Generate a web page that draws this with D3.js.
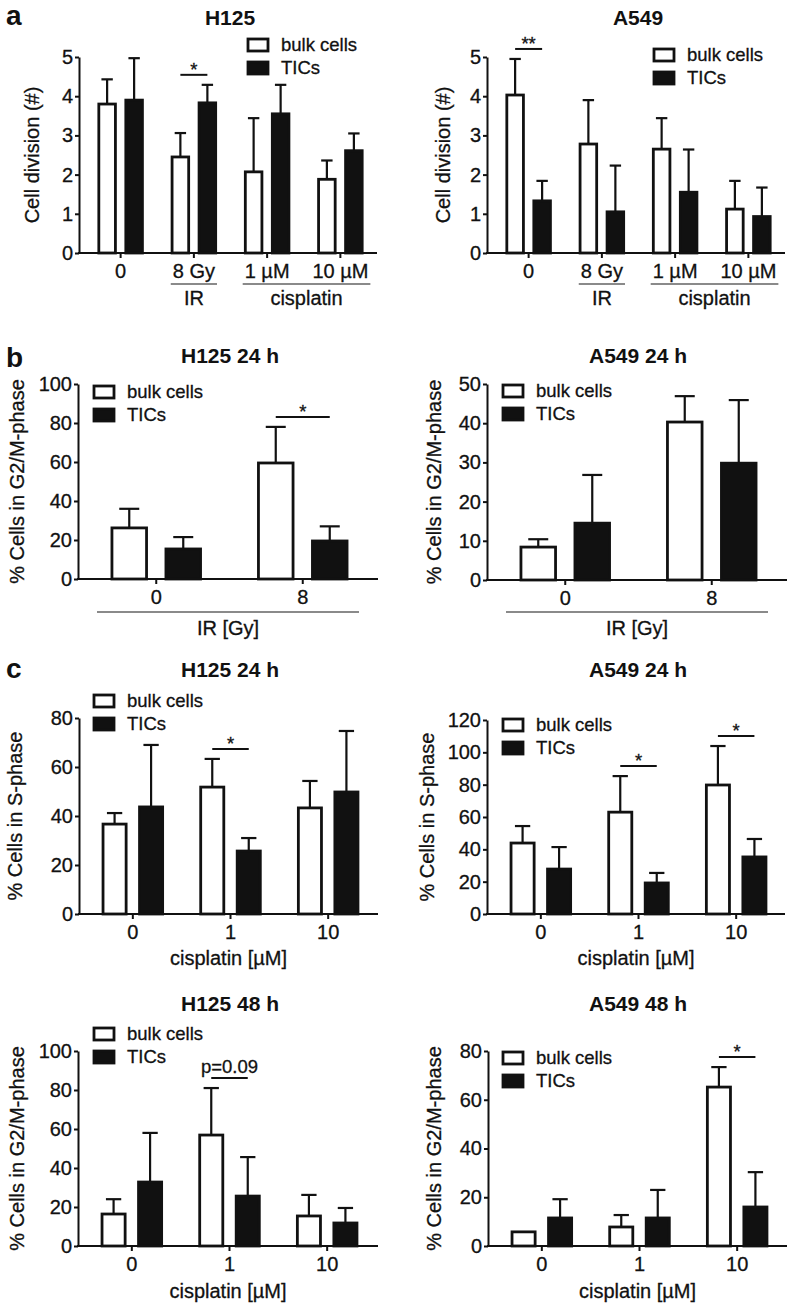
<!DOCTYPE html>
<html><head><meta charset="utf-8">
<script src="https://cdn.jsdelivr.net/npm/d3@7/dist/d3.min.js"></script>
<style>
body{margin:0;background:#fff;}
svg{display:block;font-family:"Liberation Sans",Arial,Helvetica,sans-serif;}
text.reg{stroke:#111;stroke-width:0.3px;}
</style></head><body>
<svg id="chart" width="789" height="1305"></svg>
<script>
// ---------------- data ----------------
const series = ["bulk cells", "TICs"];

// a: cell division
const divGroups = ["0", "8 Gy", "1 µM", "10 µM"];
const divTicks = [0, 1, 2, 3, 4, 5];
const divTreatments = [{label: "IR", groups: ["8 Gy"]}, {label: "cisplatin", groups: ["1 µM", "10 µM"]}];
const h125DivBulk = [3.80, 2.45, 2.07, 1.88];
const h125DivBulkErr = [0.63, 0.61, 1.37, 0.48];
const h125DivTic = [3.90, 3.83, 3.55, 2.61];
const h125DivTicErr = [1.07, 0.46, 0.74, 0.44];
const h125DivSig = [{group: "8 Gy", label: "*"}];
const a549DivBulk = [4.03, 2.78, 2.65, 1.12];
const a549DivBulkErr = [0.92, 1.12, 0.79, 0.72];
const a549DivTic = [1.33, 1.05, 1.55, 0.93];
const a549DivTicErr = [0.51, 1.18, 1.09, 0.74];
const a549DivSig = [{group: "0", label: "**"}];

// b: G2/M after IR, 24 h
const irGroups = ["0", "8"];
const h125IrTicks = [0, 20, 40, 60, 80, 100];
const h125IrBulk = [26.2, 59.5];
const h125IrBulkErr = [9.8, 18.5];
const h125IrTic = [15.4, 19.5];
const h125IrTicErr = [6.1, 7.5];
const h125IrSig = [{group: "8", label: "*"}];
const a549IrTicks = [0, 10, 20, 30, 40, 50];
const a549IrBulk = [8.4, 40.3];
const a549IrBulkErr = [2.0, 6.6];
const a549IrTic = [14.5, 29.8];
const a549IrTicErr = [12.3, 16.1];
const a549IrSig = [];

// c: cisplatin
const cisGroups = ["0", "1", "10"];
const h125SPhaseTicks = [0, 20, 40, 60, 80];
const h125SPhaseBulk = [36.7, 51.8, 43.3];
const h125SPhaseBulkErr = [4.5, 11.5, 11.0];
const h125SPhaseTic = [43.7, 25.7, 49.8];
const h125SPhaseTicErr = [25.3, 5.3, 24.9];
const h125SPhaseSig = [{group: "1", label: "*"}];
const a549SPhaseTicks = [0, 20, 40, 60, 80, 100, 120];
const a549SPhaseBulk = [43.9, 63.0, 79.8];
const a549SPhaseBulkErr = [10.5, 22.3, 24.1];
const a549SPhaseTic = [27.8, 19.2, 35.3];
const a549SPhaseTicErr = [13.6, 6.2, 11.1];
const a549SPhaseSig = [{group: "1", label: "*"}, {group: "10", label: "*"}];
const h125G2mTicks = [0, 20, 40, 60, 80, 100];
const h125G2mBulk = [16.4, 56.9, 15.4];
const h125G2mBulkErr = [7.6, 24.1, 10.8];
const h125G2mTic = [32.8, 25.6, 11.8];
const h125G2mTicErr = [25.2, 20.0, 7.7];
const h125G2mSig = [{group: "1", label: "p=0.09"}];
const a549G2mTicks = [0, 20, 40, 60, 80];
const a549G2mBulk = [5.8, 7.8, 65.2];
const a549G2mBulkErr = [0, 4.9, 8.2];
const a549G2mTic = [11.5, 11.5, 16.0];
const a549G2mTicErr = [7.7, 11.5, 14.3];
const a549G2mSig = [{group: "10", label: "*"}];

// ---------------- layout ----------------
const svg = d3.select("#chart");
svg.append("rect").attr("width", 789).attr("height", 1305).attr("fill", "#fff");
const INK = "#111";
const GRAY = "#8a8a8a";

const panels = [
  {title: "H125", titleX: 230, titleY: 25, x0: 79, x1: 377, yTop: 57, y0: 253, ticks: divTicks,
   groups: divGroups, bulk: h125DivBulk, bulkErr: h125DivBulkErr, tic: h125DivTic, ticErr: h125DivTicErr, sig: h125DivSig,
   yLabel: "Cell division (#)", yLabX: 32, legX: 247, legY: 38, bw: 19, gap: 8, treatments: divTreatments},
  {title: "A549", titleX: 638, titleY: 25, x0: 487, x1: 785, yTop: 57, y0: 253, ticks: divTicks,
   groups: divGroups, bulk: a549DivBulk, bulkErr: a549DivBulkErr, tic: a549DivTic, ticErr: a549DivTicErr, sig: a549DivSig,
   yLabel: "Cell division (#)", yLabX: 443, legX: 653, legY: 48, bw: 19, gap: 8, treatments: divTreatments},
  {title: "H125 24 h", titleX: 230, titleY: 363, x0: 78, x1: 378, yTop: 384, y0: 579, ticks: h125IrTicks,
   groups: irGroups, bulk: h125IrBulk, bulkErr: h125IrBulkErr, tic: h125IrTic, ticErr: h125IrTicErr, sig: h125IrSig,
   yLabel: "% Cells in G2/M-phase", yLabX: 17, legX: 93, legY: 385, bw: 37, gap: 17, xLabel: "IR [Gy]", xLabelY: 635, bracket: 612},
  {title: "A549 24 h", titleX: 638, titleY: 363, x0: 487, x1: 787, yTop: 384, y0: 580, ticks: a549IrTicks,
   groups: irGroups, bulk: a549IrBulk, bulkErr: a549IrBulkErr, tic: a549IrTic, ticErr: a549IrTicErr, sig: a549IrSig,
   yLabel: "% Cells in G2/M-phase", yLabX: 434, legX: 502, legY: 384, bw: 37, gap: 17, xLabel: "IR [Gy]", xLabelY: 635, bracket: 612},
  {title: "H125 24 h", titleX: 230, titleY: 677, x0: 79, x1: 378, yTop: 718, y0: 914, ticks: h125SPhaseTicks,
   groups: cisGroups, bulk: h125SPhaseBulk, bulkErr: h125SPhaseBulkErr, tic: h125SPhaseTic, ticErr: h125SPhaseTicErr, sig: h125SPhaseSig,
   yLabel: "% Cells in S-phase", yLabX: 15, legX: 93, legY: 694, bw: 25.5, gap: 11, xLabel: "cisplatin [µM]", xLabelY: 965},
  {title: "A549 24 h", titleX: 638, titleY: 677, x0: 487, x1: 785, yTop: 720, y0: 914, ticks: a549SPhaseTicks,
   groups: cisGroups, bulk: a549SPhaseBulk, bulkErr: a549SPhaseBulkErr, tic: a549SPhaseTic, ticErr: a549SPhaseTicErr, sig: a549SPhaseSig,
   yLabel: "% Cells in S-phase", yLabX: 427, legX: 502, legY: 718, bw: 25.5, gap: 11, xLabel: "cisplatin [µM]", xLabelY: 965},
  {title: "H125 48 h", titleX: 230, titleY: 1011, x0: 78, x1: 378, yTop: 1051, y0: 1246, ticks: h125G2mTicks,
   groups: cisGroups, bulk: h125G2mBulk, bulkErr: h125G2mBulkErr, tic: h125G2mTic, ticErr: h125G2mTicErr, sig: h125G2mSig,
   yLabel: "% Cells in G2/M-phase", yLabX: 17, legX: 93, legY: 1027, bw: 25.5, gap: 11, xLabel: "cisplatin [µM]", xLabelY: 1298},
  {title: "A549 48 h", titleX: 638, titleY: 1011, x0: 488, x1: 787, yTop: 1051, y0: 1246, ticks: a549G2mTicks,
   groups: cisGroups, bulk: a549G2mBulk, bulkErr: a549G2mBulkErr, tic: a549G2mTic, ticErr: a549G2mTicErr, sig: a549G2mSig,
   yLabel: "% Cells in G2/M-phase", yLabX: 434, legX: 502, legY: 1051, bw: 25.5, gap: 11, xLabel: "cisplatin [µM]", xLabelY: 1298}
];

function drawPanel(p) {
  const g = svg.append("g");
  const y = d3.scaleLinear().domain([0, d3.max(p.ticks)]).range([p.y0, p.yTop]);
  const x = d3.scaleBand().domain(p.groups).range([p.x0 + 5, p.x0 + 298]).padding(0);
  const half = p.bw + p.gap / 2;
  const xi = d3.scaleBand().domain(series).range([-half, half]).paddingInner(p.gap / (p.bw + p.gap)).paddingOuter(0);
  const cx = (grp) => x(grp) + x.bandwidth() / 2;

  const rows = p.groups.flatMap((grp, i) => [
    {group: grp, s: series[0], v: p.bulk[i], e: p.bulkErr[i]},
    {group: grp, s: series[1], v: p.tic[i], e: p.ticErr[i]}
  ]);

  // error bars (upper only)
  const capW = Math.min(20, xi.bandwidth() * 0.6);
  const eb = g.append("g").attr("stroke", INK).attr("stroke-width", 2.2);
  rows.filter(d => d.e > 0).forEach(d => {
    const c = cx(d.group) + xi(d.s) + xi.bandwidth() / 2;
    eb.append("line").attr("x1", c).attr("x2", c).attr("y1", y(d.v)).attr("y2", y(d.v + d.e));
    eb.append("line").attr("x1", c - capW / 2).attr("x2", c + capW / 2).attr("y1", y(d.v + d.e)).attr("y2", y(d.v + d.e));
  });

  // bars
  g.append("g").selectAll("rect").data(rows).join("rect")
    .attr("x", d => cx(d.group) + xi(d.s) + 1.2)
    .attr("width", xi.bandwidth() - 2.4)
    .attr("y", d => y(d.v))
    .attr("height", d => y(0) - y(d.v))
    .attr("fill", d => d.s === series[0] ? "#fff" : INK)
    .attr("stroke", INK).attr("stroke-width", 2.8);

  // y axis
  const ya = g.append("g").attr("transform", `translate(${p.x0},0)`)
    .call(d3.axisLeft(y).tickValues(p.ticks).tickSize(4).tickSizeOuter(0).tickPadding(2).tickFormat(d3.format("d")));
  ya.select(".domain").attr("stroke", INK).attr("stroke-width", 2);
  ya.selectAll(".tick line").attr("stroke", INK).attr("stroke-width", 2);
  ya.selectAll(".tick text").attr("class", "reg").attr("fill", INK).style("font-size", "20px").attr("font-family", null);

  // x axis
  g.append("line").attr("x1", p.x0 - 1).attr("x2", p.x1).attr("y1", p.y0).attr("y2", p.y0)
    .attr("stroke", INK).attr("stroke-width", 2);
  const xa = g.append("g").attr("transform", `translate(0,${p.y0})`)
    .call(d3.axisBottom(x).tickSize(5).tickSizeOuter(0).tickPadding(6));
  xa.select(".domain").remove();
  xa.selectAll(".tick line").attr("stroke", INK).attr("stroke-width", 2);
  xa.selectAll(".tick text").attr("class", "reg").attr("fill", INK).style("font-size", "20px").attr("font-family", null);

  // treatment brackets under tick labels (panel a)
  if (p.treatments) {
    p.treatments.forEach(t => {
      const nodes = xa.selectAll(".tick").filter(d => t.groups.includes(d)).select("text").nodes();
      let lo = Infinity, hi = -Infinity;
      nodes.forEach(n => {
        const b = n.getBBox();
        const tx = cx(n.__data__);
        lo = Math.min(lo, tx + b.x - 2); hi = Math.max(hi, tx + b.x + b.width + 2);
      });
      g.append("line").attr("x1", lo).attr("x2", hi).attr("y1", p.y0 + 31).attr("y2", p.y0 + 31)
        .attr("stroke", GRAY).attr("stroke-width", 2);
      g.append("text").attr("class", "reg").attr("x", (lo + hi) / 2).attr("y", p.y0 + 52).attr("text-anchor", "middle")
        .attr("fill", INK).style("font-size", "20px").text(t.label);
    });
  }
  if (p.bracket) {
    g.append("line").attr("x1", p.x0 + 19).attr("x2", p.x1 - 19).attr("y1", p.bracket).attr("y2", p.bracket)
      .attr("stroke", GRAY).attr("stroke-width", 2);
  }
  if (p.xLabel) {
    g.append("text").attr("class", "reg").attr("x", (p.x0 + p.x1) / 2).attr("y", p.xLabelY).attr("text-anchor", "middle")
      .attr("fill", INK).style("font-size", "20px").text(p.xLabel);
  }

  // y label
  g.append("text").attr("class", "reg").attr("transform", `translate(${p.yLabX},${(p.y0 + p.yTop) / 2}) rotate(-90)`)
    .attr("text-anchor", "middle").attr("dy", "0.35em").attr("fill", INK).style("font-size", "20px").text(p.yLabel);

  // title
  g.append("text").attr("x", p.titleX).attr("y", p.titleY).attr("text-anchor", "middle")
    .attr("fill", INK).style("font-size", "21px").style("font-weight", "bold").text(p.title);

  // legend
  const lg = g.append("g").attr("transform", `translate(${p.legX},${p.legY})`);
  series.forEach((s, i) => {
    lg.append("rect").attr("x", 1).attr("y", i * 23 + 1).attr("width", 20).attr("height", 12)
      .attr("fill", i === 0 ? "#fff" : INK).attr("stroke", INK).attr("stroke-width", 2.8);
    lg.append("text").attr("class", "reg").attr("x", 34).attr("y", i * 23 + 13).attr("fill", INK).style("font-size", "18.5px").text(s);
  });

  // significance
  p.sig.forEach(sg => {
    const i = p.groups.indexOf(sg.group);
    const top = Math.max(p.bulk[i] + p.bulkErr[i], p.tic[i] + p.ticErr[i]);
    const ly = y(top) - 10;
    const xa1 = cx(sg.group) + xi(series[0]) + xi.bandwidth() / 2;
    const xa2 = cx(sg.group) + xi(series[1]) + xi.bandwidth() / 2;
    g.append("line").attr("x1", xa1).attr("x2", xa2).attr("y1", ly).attr("y2", ly)
      .attr("stroke", INK).attr("stroke-width", 2);
    const star = sg.label.startsWith("*");
    g.append("text").attr("class", "reg").attr("x", (xa1 + xa2) / 2).attr("y", star ? ly + 1 : ly - 5).attr("text-anchor", "middle")
      .attr("fill", INK).style("font-size", "18.5px").text(sg.label);
  });
}

panels.forEach(drawPanel);

// panel letters
[{t: "a", y: 25}, {t: "b", y: 367}, {t: "c", y: 678}].forEach(l => {
  svg.append("text").attr("x", 6).attr("y", l.y).attr("fill", INK)
    .style("font-size", "28px").style("font-weight", "bold").text(l.t);
});
</script>
</body></html>
